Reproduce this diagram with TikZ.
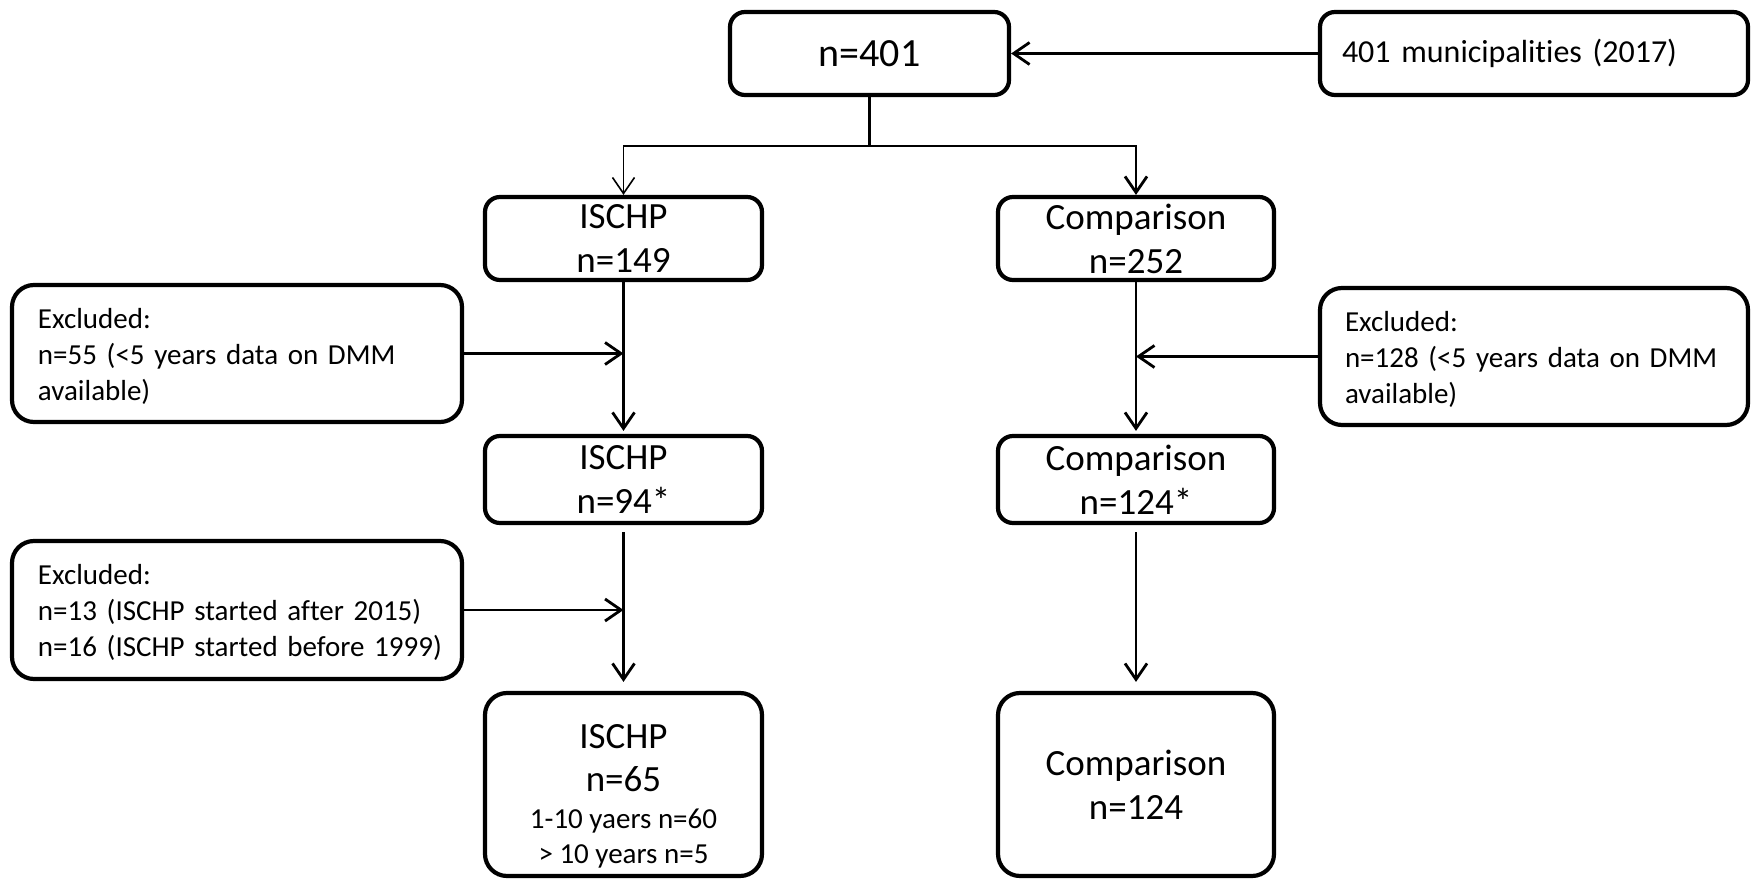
\documentclass[tikz,border=0pt]{standalone}
\usepackage{fontspec}
\setmainfont{Carlito}[Ligatures=NoCommon]
\usetikzlibrary{arrows.meta}

\begin{document}
\begin{tikzpicture}[x=0.5pt,y=-0.5pt,
  box/.style={draw, line width=2.1pt, rounded corners=7.5pt, align=center,
    inner sep=0pt, font=\fontsize{18.5}{22}\selectfont},
  bigbox/.style={box, rounded corners=11pt},
  exclbox/.style={draw, line width=2.1pt, rounded corners=11pt, align=left,
    inner ysep=0pt, font=\fontsize{14.5}{18}\selectfont},
  conn/.style={line width=1.4pt},
  arr/.style={conn, -{Straight Barb[length=8pt,width=11pt]}},
  thinarr/.style={line width=0.8pt, -{Straight Barb[length=8pt,width=11pt]}}]

  \useasboundingbox (0,0) rectangle (1756,881);

  % top row
  \node[box, minimum width=139.5pt, minimum height=41.5pt,
        font=\fontsize{20}{24}\selectfont] (n401) at (869.5,53.5) {n=401};
  \node[box, minimum width=214pt, minimum height=41.5pt, align=left,
        text width=192pt, inner xsep=11pt,
        font=\fontsize{16}{19}\selectfont] (muni) at (1534,53.5)
        {401 municipalities (2017)};

  % first split
  \node[box, minimum width=138.5pt, minimum height=41.5pt] (ischpA) at (623.5,238.5) {ISCHP\\n=149};
  \node[box, minimum width=138pt, minimum height=41.5pt] (compA) at (1136,238.5) {Comparison\\n=252};

  % exclusion boxes, first step
  \node[exclbox, minimum width=225pt, minimum height=68.5pt, text width=199pt,
        inner xsep=13pt] (exclA) at (237,353.5)
        {\rule{0pt}{13pt}Excluded:\\\mbox{n=55 (<5 years data on DMM}\\available)};
  \node[exclbox, minimum width=214pt, minimum height=68.5pt, text width=189pt,
        inner xsep=12.5pt] (exclB) at (1534,356.5)
        {\rule{0pt}{13pt}Excluded:\\\mbox{n=128 (<5 years data on DMM}\\available)};

  % second step
  \node[box, minimum width=138.5pt, minimum height=43.5pt] (ischpB) at (623.5,479.5) {ISCHP\\n=94*};
  \node[box, minimum width=138pt, minimum height=43.5pt] (compB) at (1136,479.5) {Comparison\\n=124*};

  % exclusion box, second step
  \node[exclbox, minimum width=225pt, minimum height=69pt, text width=199pt,
        inner xsep=13pt] (exclC) at (237,610)
        {\rule{0pt}{13pt}Excluded:\\\mbox{n=13 (ISCHP started after 2015)}\\\mbox{n=16 (ISCHP started before 1999)}};

  % final groups
  \node[bigbox, minimum width=138.5pt, minimum height=91.5pt] (ischpC) at (623.5,784.5)
        {\rule{0pt}{24pt}ISCHP\\[-0.7pt]n=65\\[-3.1pt]{\fontsize{14.5}{17.5}\selectfont 1-10 yaers n=60}\\[-4.6pt]{\fontsize{14.5}{17.5}\selectfont > 10 years n=5}};
  \node[bigbox, minimum width=138pt, minimum height=91.5pt] (compC) at (1136,784.5)
        {Comparison\\n=124};

  % connectors
  \coordinate (split) at (869.5,146);
  \draw[arr] (muni.west) -- (n401.east);
  \draw[conn] (n401.south) -- (split);
  \draw[thinarr] (split) -| (ischpA.north);
  \draw[arr] (split) -| (compA.north);

  \draw[arr, shorten >=1.5pt] (ischpA.south) -- (ischpB.north);
  \draw[arr, shorten >=1.5pt] (compA.south) -- (compB.north);
  \draw[arr] (exclA.east) -- (exclA.east -| ischpA.south);
  \draw[arr] (exclB.west) -- (exclB.west -| compA.south);

  \draw[arr, shorten <=3.5pt, shorten >=4.5pt] (ischpB.south) -- (ischpC.north);
  \draw[arr, shorten <=3.5pt, shorten >=4.5pt] (compB.south) -- (compC.north);
  \draw[arr] (exclC.east) -- (exclC.east -| ischpB.south);
\end{tikzpicture}
\end{document}
